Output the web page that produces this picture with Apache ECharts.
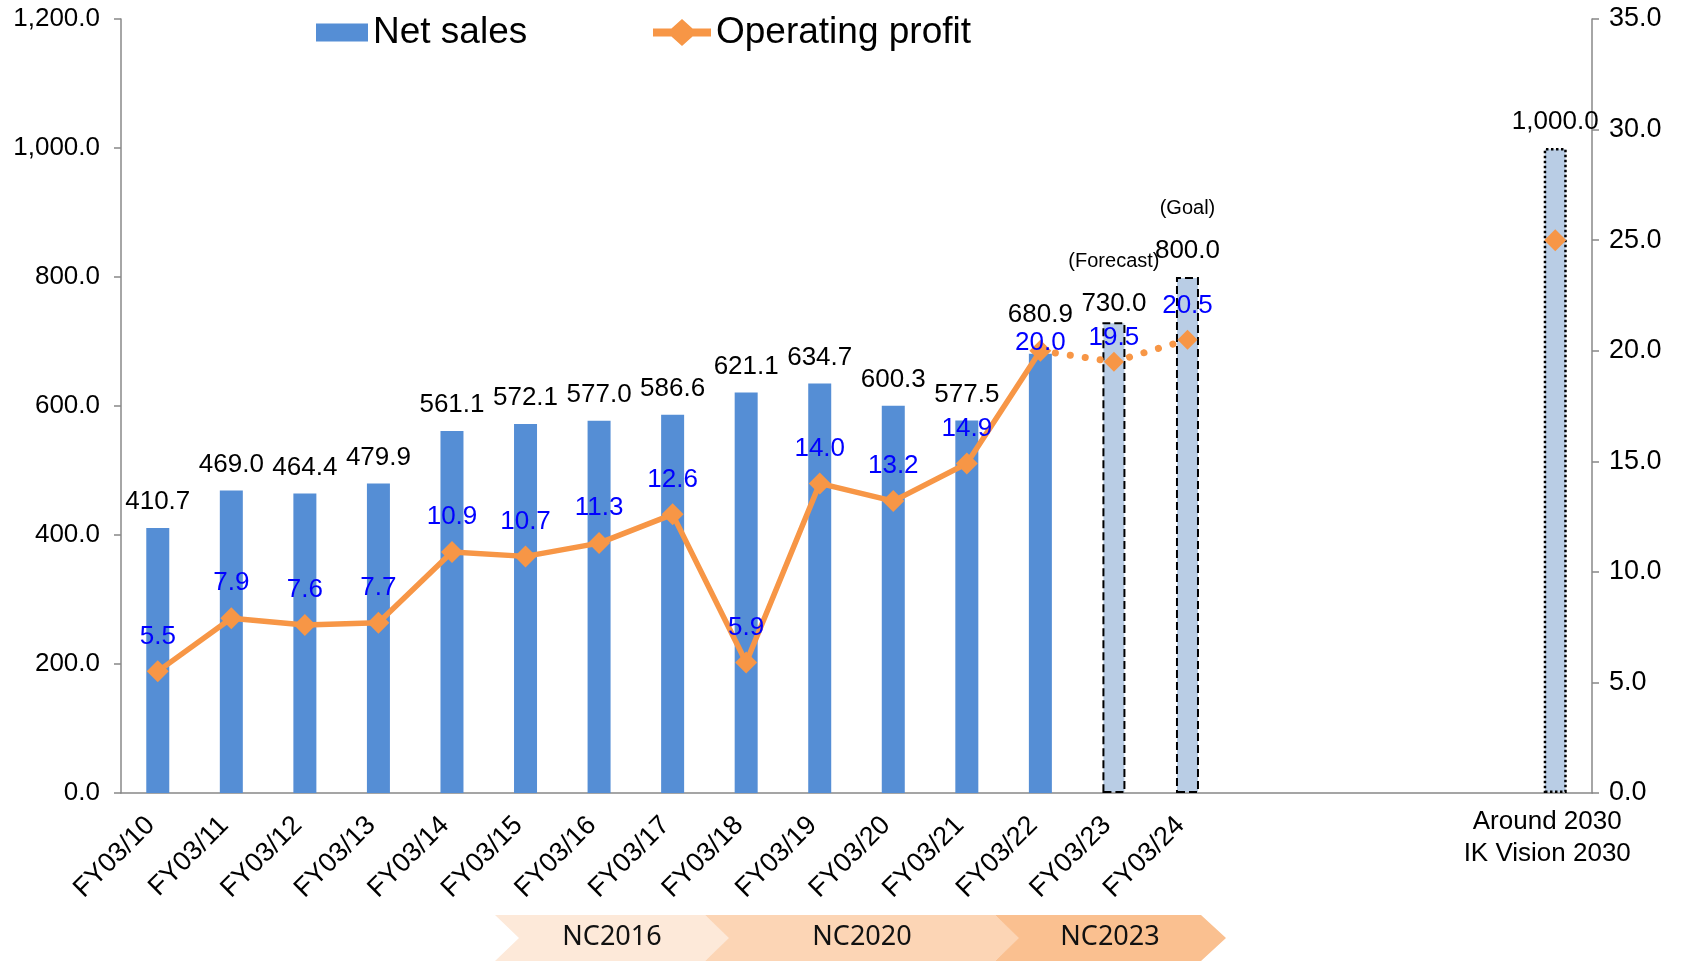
<!DOCTYPE html>
<html>
<head>
<meta charset="utf-8">
<title>Net sales / Operating profit</title>
<script src="https://cdn.jsdelivr.net/npm/echarts@6/dist/echarts.min.js"></script>
<style>
  html, body { margin: 0; padding: 0; background: #fff; }
  #chart { width: 1685px; height: 961px; }
</style>
</head>
<body>
<div id="chart"></div>
<script>
// categories (4 empty slots before the 2030 vision)
const categories = ['FY03/10', 'FY03/11', 'FY03/12', 'FY03/13', 'FY03/14', 'FY03/15', 'FY03/16', 'FY03/17',
    'FY03/18', 'FY03/19', 'FY03/20', 'FY03/21', 'FY03/22', 'FY03/23', 'FY03/24', '', '', '', '', 'Around 2030\nIK Vision 2030']
// net sales (left axis)
const netSales = [410.7, 469.0, 464.4, 479.9, 561.1, 572.1, 577.0, 586.6, 621.1, 634.7, 600.3, 577.5, 680.9, 730.0, 800.0,
    null, null, null, null, 1000.0]
// operating profit (right axis)
const operatingProfit = [5.5, 7.9, 7.6, 7.7, 10.9, 10.7, 11.3, 12.6, 5.9, 14.0, 13.2, 14.9, 20.0, 19.5, 20.5,
    null, null, null, null, 25.0]
// notes above planned bars
const barNotes = ['', '', '', '', '', '', '', '', '', '', '', '', '', '(Forecast)', '(Goal)', '', '', '', '', '']
// axis ticks
const salesTicks = [0, 200, 400, 600, 800, 1000, 1200]
const profitTicks = [0, 5, 10, 15, 20, 25, 30, 35]
// medium-term plans
const plans = ['NC2016', 'NC2020', 'NC2023']

const FONT = '"Liberation Sans", Arial, sans-serif'
const ORANGE = '#F79646'
const firstPlanned = 13
const lastIdx = categories.length - 1
const fmt = v => Number(v).toLocaleString('en-US', { minimumFractionDigits: 1, maximumFractionDigits: 1 })

// label tweaks
const barLabelOffset = { 12: [0, -13], 13: [0, 8] }
const lineLabelOffset = { 12: [0, 27], 13: [0, 10] }

const barData = netSales.map((v, i) => {
    if (v == null) return null
    const item = { value: v }
    if (i >= firstPlanned) {
        item.itemStyle = {
            color: '#B9CDE5',
            borderColor: '#000',
            borderWidth: i === lastIdx ? 2.5 : 2,
            borderType: i === lastIdx ? 'dotted' : 'dashed'
        }
    }
    if (barLabelOffset[i]) item.label = { offset: barLabelOffset[i] }
    return item
})

const solidData = operatingProfit.map((v, i) => {
    if (v == null || (i >= firstPlanned && i !== lastIdx)) return null
    const item = { value: v }
    if (i === lastIdx) item.label = { show: false }
    if (lineLabelOffset[i]) item.label = { offset: lineLabelOffset[i] }
    return item
})

const dottedData = operatingProfit.map((v, i) => {
    if (v == null || i < firstPlanned - 1 || i === lastIdx) return null
    const item = { value: v }
    if (i === firstPlanned - 1) {
        item.symbol = 'none'
        item.label = { show: false }
    } else if (lineLabelOffset[i]) {
        item.label = { offset: lineLabelOffset[i] }
    }
    return item
})

// plan chevrons under the axis
const chevronX = [[495, 705], [705, 995], [995, 1201]]
const chevronColors = ['#FDE9D9', '#FCD5B5', '#FAC090']
const graphic = []
plans.forEach((name, i) => {
    const [x0, x1] = chevronX[i]
    graphic.push({
        type: 'polygon',
        shape: { points: [[x0, 915], [x1, 915], [x1 + 25, 938], [x1, 961], [x0, 961], [x0 + 24, 938]] },
        style: { fill: chevronColors[i] },
        z: 1
    })
    graphic.push({
        type: 'text',
        x: (x0 + x1 + 24) / 2,
        y: 937,
        style: {
            text: name,
            font: '27px "Noto Sans", sans-serif',
            fill: '#111',
            textAlign: 'center',
            textVerticalAlign: 'middle'
        },
        z: 2
    })
})

const labelBase = { fontFamily: FONT, fontSize: 26, color: '#000' }
const legendText = { fontSize: 37, color: '#000', fontFamily: FONT }

const chart = echarts.init(document.getElementById('chart'))
const option = {
    animation: false,
    textStyle: { fontFamily: FONT },
    legend: [
        {
            data: [{ name: 'Net sales', icon: 'rect' }],
            left: 311,
            top: 9,
            itemWidth: 52,
            itemHeight: 18,
            textStyle: legendText
        },
        {
            data: [{
                name: 'Operating profit',
                icon: 'path://M0,9.5L18.44,9.5L29,0L39.56,9.5L58,9.5L58,17.5L39.56,17.5L29,27L18.44,17.5L0,17.5Z',
                itemStyle: { color: ORANGE }
            }],
            left: 648,
            top: 9,
            itemWidth: 58,
            itemHeight: 27,
            textStyle: legendText
        }
    ],
    grid: { left: 121, right: 93, top: 19, bottom: 168 },
    xAxis: [
        {
            type: 'category',
            data: categories,
            axisLine: { lineStyle: { color: '#888', width: 1.5 } },
            axisTick: { length: 8, lineStyle: { color: '#888', width: 1.5 } },
            axisLabel: Object.assign({}, labelBase, {
                interval: 0,
                rotate: 45,
                fontSize: 27,
                margin: 21,
                padding: [0, 10, 0, 0],
                formatter: (v, i) => (i === lastIdx ? '' : v)
            })
        },
        {
            type: 'category',
            data: categories,
            position: 'bottom',
            axisLine: { show: false },
            axisTick: { show: false },
            axisLabel: Object.assign({}, labelBase, {
                interval: 0,
                margin: 13,
                lineHeight: 32,
                padding: [0, 16, 0, 0],
                formatter: (v, i) => (i === lastIdx ? v : '')
            })
        }
    ],
    yAxis: [
        {
            type: 'value',
            min: salesTicks[0],
            max: salesTicks[salesTicks.length - 1],
            interval: salesTicks[1] - salesTicks[0],
            splitLine: { show: false },
            axisLine: { show: true, lineStyle: { color: '#888', width: 1.5 } },
            axisTick: { show: true, length: 7, lineStyle: { color: '#888', width: 1.5 } },
            axisLabel: Object.assign({}, labelBase, { margin: 21, formatter: fmt })
        },
        {
            type: 'value',
            position: 'right',
            min: profitTicks[0],
            max: profitTicks[profitTicks.length - 1],
            interval: profitTicks[1] - profitTicks[0],
            splitLine: { show: false },
            axisLine: { show: true, lineStyle: { color: '#888', width: 1.5 } },
            axisTick: { show: true, length: 7, lineStyle: { color: '#888', width: 1.5 } },
            axisLabel: Object.assign({}, labelBase, { fontSize: 27, margin: 17, formatter: fmt })
        }
    ],
    series: [
        {
            name: 'Net sales',
            type: 'bar',
            barWidth: 23,
            data: barData,
            itemStyle: { color: '#558ED5' },
            label: Object.assign({}, labelBase, {
                show: true,
                position: 'top',
                distance: 13,
                lineHeight: 26,
                formatter: p => {
                    const note = barNotes[p.dataIndex]
                    return note ? '{n|' + note + '}\n{v|' + fmt(p.value) + '}' : fmt(p.value)
                },
                rich: {
                    n: { fontSize: 20, lineHeight: 60, color: '#000', fontFamily: FONT },
                    v: { fontSize: 26, lineHeight: 26, color: '#000', fontFamily: FONT }
                }
            }),
            z: 2
        },
        {
            name: 'Operating profit',
            type: 'line',
            yAxisIndex: 1,
            data: solidData,
            symbol: 'diamond',
            symbolSize: 22,
            connectNulls: false,
            lineStyle: { color: ORANGE, width: 5.5 },
            itemStyle: { color: ORANGE },
            label: Object.assign({}, labelBase, {
                show: true,
                position: 'top',
                distance: 11,
                color: '#0000FF',
                formatter: p => fmt(p.value)
            }),
            z: 4
        },
        {
            name: 'Operating profit (plan)',
            type: 'line',
            yAxisIndex: 1,
            data: dottedData,
            symbol: 'diamond',
            symbolSize: 20,
            lineStyle: { color: ORANGE, width: 7, type: [0.1, 15], cap: 'round' },
            itemStyle: { color: ORANGE },
            label: Object.assign({}, labelBase, {
                show: true,
                position: 'top',
                distance: 11,
                color: '#0000FF',
                formatter: p => fmt(p.value)
            }),
            z: 3
        }
    ],
    graphic: graphic
}
chart.setOption(option)
window.addEventListener('resize', () => chart.resize())
</script>
</body>
</html>
